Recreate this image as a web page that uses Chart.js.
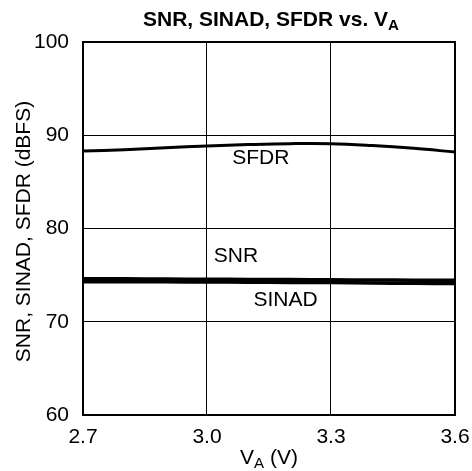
<!DOCTYPE html>
<html>
<head>
<meta charset="utf-8">
<script src="https://cdn.jsdelivr.net/npm/chart.js@4"></script>
<style>
  html, body { margin: 0; padding: 0; background: #fff; }
  #wrap { width: 472px; height: 471px; }
</style>
</head>
<body>
<div id="wrap"><canvas id="chart" width="472" height="471"></canvas></div>
<script>
  const voltages = [2.7, 2.8, 2.9, 3.0, 3.1, 3.2, 3.3, 3.4, 3.5, 3.6];
  const sfdr  = [88.3, 88.45, 88.65, 88.85, 89.0, 89.1, 89.1, 88.9, 88.6, 88.2];
  const snr   = [74.6, 74.6, 74.58, 74.56, 74.54, 74.52, 74.5, 74.48, 74.46, 74.45];
  const sinad = [74.3, 74.3, 74.28, 74.26, 74.24, 74.22, 74.2, 74.16, 74.12, 74.1];
  const xTicks = [2.7, 3.0, 3.3, 3.6];
  const yTicks = [60, 70, 80, 90, 100];

  const FONT = '"Liberation Sans", Arial, sans-serif';

  function pts(ys) {
    return voltages.map((v, i) => ({ x: v, y: ys[i] }));
  }

  // draws text with a subscript part: parts = [[text, isSub], ...]
  function drawParts(ctx, parts, cx, cy, size, bold) {
    const w = parts.reduce((s, p) => {
      ctx.font = (bold ? 'bold ' : '') + (p[1] ? size * 0.72 : size) + 'px ' + FONT;
      return s + ctx.measureText(p[0]).width;
    }, 0);
    let x = cx - w / 2;
    parts.forEach(p => {
      const sz = p[1] ? size * 0.72 : size;
      ctx.font = (bold ? 'bold ' : '') + sz + 'px ' + FONT;
      ctx.fillText(p[0], x, cy + (p[1] ? size * 0.3 : 0));
      x += ctx.measureText(p[0]).width;
    });
  }

  const labels = {
    id: 'labels',
    afterDraw(chart) {
      const ctx = chart.ctx;
      const xs = chart.scales.x, ys = chart.scales.y;
      ctx.save();
      ctx.fillStyle = '#000';
      ctx.textAlign = 'left';
      ctx.textBaseline = 'middle';
      drawParts(ctx, [['SNR, SINAD, SFDR vs. V', false], ['A', true]], 271, 20, 21, true);
      drawParts(ctx, [['V', false], ['A', true], [' (V)', false]], 269, 458, 21, false);

      ctx.font = '21px ' + FONT;
      ctx.textAlign = 'center';
      ctx.fillText('SFDR', xs.getPixelForValue(3.13), ys.getPixelForValue(87.55));
      ctx.fillText('SNR', xs.getPixelForValue(3.07), ys.getPixelForValue(77.0));
      ctx.fillText('SINAD', xs.getPixelForValue(3.19), ys.getPixelForValue(72.3));

      ctx.translate(24, (ys.top + ys.bottom) / 2 + 3);
      ctx.rotate(-Math.PI / 2);
      ctx.fillText('SNR, SINAD, SFDR (dBFS)', 0, 0);
      ctx.restore();

      // plot frame
      ctx.save();
      ctx.strokeStyle = '#000';
      ctx.lineWidth = 2;
      ctx.strokeRect(xs.left, ys.top, xs.right - xs.left, ys.bottom - ys.top);
      ctx.restore();
    }
  };

  const line = (data, w) => ({
    data: pts(data),
    borderColor: '#000',
    borderWidth: w,
    pointRadius: 0,
    tension: 0.4,
    fill: false,
  });

  new Chart(document.getElementById('chart'), {
    type: 'line',
    data: {
      datasets: [line(sfdr, 3), line(snr, 3.5), line(sinad, 3.5)],
    },
    options: {
      responsive: false,
      animation: false,
      layout: { padding: { top: 42, right: 17, left: 0, bottom: 0 } },
      plugins: { legend: { display: false }, tooltip: { enabled: false } },
      scales: {
        x: {
          type: 'linear',
          min: 2.7,
          max: 3.6,
          afterBuildTicks: (s) => { s.ticks = xTicks.map(v => ({ value: v })); },
          afterFit: (s) => { s.height = 56; s.paddingRight = 0; s.paddingLeft = 0; },
          grid: { color: '#000', lineWidth: 1, drawTicks: false },
          border: { display: false },
          ticks: {
            color: '#000',
            padding: 10,
            maxRotation: 0,
            font: { family: FONT, size: 21 },
            callback: (v) => v.toFixed(1),
          },
        },
        y: {
          min: 60,
          max: 100,
          afterBuildTicks: (s) => { s.ticks = yTicks.map(v => ({ value: v })); },
          afterFit: (s) => { s.width = 83; },
          grid: { color: '#000', lineWidth: 1, drawTicks: false },
          border: { display: false },
          ticks: {
            color: '#000',
            padding: 14,
            font: { family: FONT, size: 21 },
          },
        },
      },
    },
    plugins: [labels],
  });
</script>
</body>
</html>
